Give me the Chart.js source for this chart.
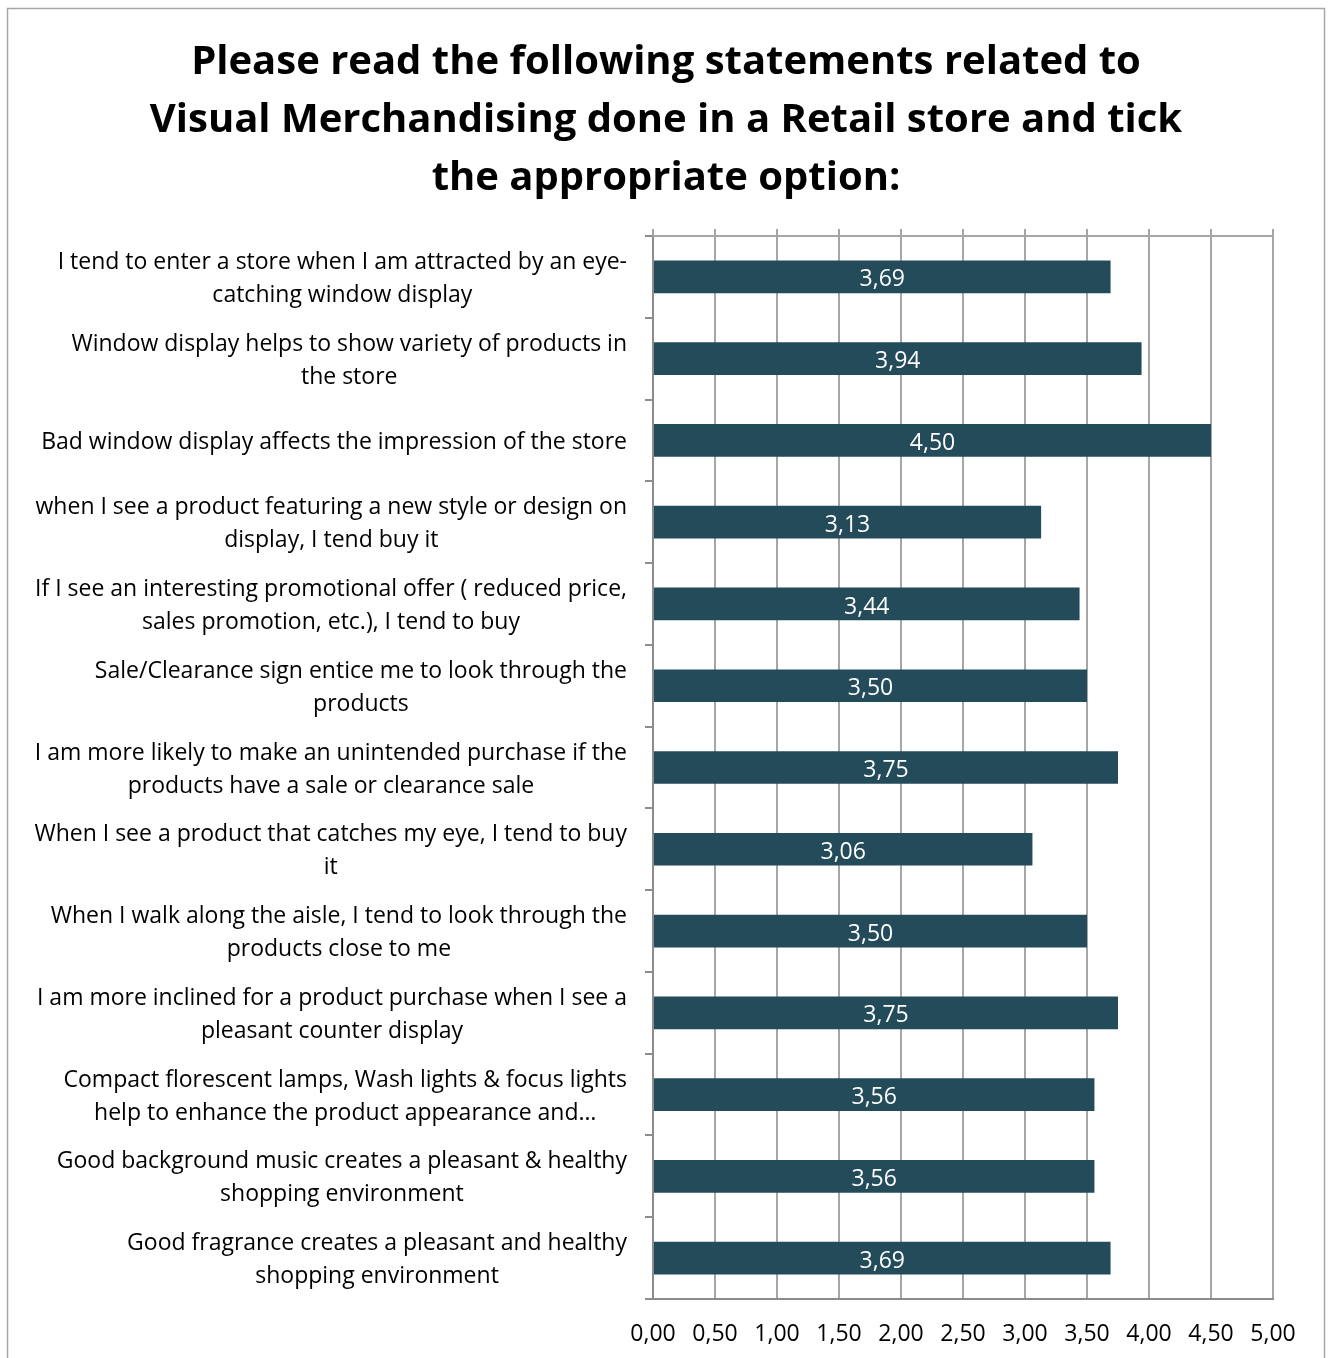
<!DOCTYPE html>
<html lang="en">
<head>
    <meta charset="UTF-8">
    <title>Visual Merchandising</title>
    <style>
        body {
            margin: 0;
            padding: 0;
            background-color: #ffffff;
        }
        .chart-box {
            position: relative;
            width: 1328px;
            height: 1358px;
        }
    </style>
</head>
<body>
    <div class="chart-box">
        <canvas id="vmChart"></canvas>
    </div>

    <script src="https://cdn.jsdelivr.net/npm/chart.js"></script>
    <script>
        // Survey statements (wrapped as shown) and mean scores
        const statements = [
            ['I tend to enter a store when I am attracted by an eye-', 'catching window display'],
            ['Window display helps to show variety of products in', 'the store'],
            ['Bad window display affects the impression of the store'],
            ['when I see a product featuring a new style or design on', 'display, I tend buy it'],
            ['If I see an interesting promotional offer ( reduced price,', 'sales promotion, etc.), I tend to buy'],
            ['Sale/Clearance sign entice me to look through the', 'products'],
            ['I am more likely to make an unintended purchase if the', 'products have a sale or clearance sale'],
            ['When I see a product that catches my eye, I tend to buy', 'it'],
            ['When I walk along the aisle, I tend to look through the', 'products close to me'],
            ['I am more inclined for a product purchase when I see a', 'pleasant counter display'],
            ['Compact florescent lamps, Wash lights & focus lights', 'help to enhance the product appearance and\u2026'],
            ['Good background music creates a pleasant & healthy', 'shopping environment'],
            ['Good fragrance creates a pleasant and healthy', 'shopping environment']
        ];
        const meanScores = [3.69, 3.94, 4.50, 3.13, 3.44, 3.50, 3.75, 3.06, 3.50, 3.75, 3.56, 3.56, 3.69];
        const axisTicks = [0, 0.5, 1, 1.5, 2, 2.5, 3, 3.5, 4, 4.5, 5];

        const titleLines = [
            'Please read the following statements related to',
            'Visual Merchandising done in a Retail store and tick',
            'the appropriate option:'
        ];

        const FONT = '"Open Sans", Lato, sans-serif';
        const GRID = '#a6a6a6';
        const AXIS = '#8c8c8c';

        const fmt = v => Number(v).toFixed(2).replace('.', ',');

        // Extra drawing: frame, title, top border with small ticks, wrapped labels, value labels
        const decorations = {
            id: 'decorations',
            afterDraw(chart) {
                const ctx = chart.ctx;
                const area = chart.chartArea;
                const xScale = chart.scales.x;
                const yScale = chart.scales.y;
                ctx.save();

                // frame around the whole chart
                ctx.strokeStyle = '#a6a6a6';
                ctx.lineWidth = 1.5;
                ctx.strokeRect(7.5, 8.5, 1317, 1400);

                // title, centred on the frame
                ctx.fillStyle = '#000000';
                ctx.font = 'bold 40px ' + FONT;
                ctx.textAlign = 'center';
                ctx.textBaseline = 'middle';
                titleLines.forEach((t, i) => {
                    ctx.fillText(t, 666, 63 + i * 58);
                });

                // top border and the short ticks above it
                ctx.strokeStyle = GRID;
                ctx.lineWidth = 2;
                ctx.beginPath();
                ctx.moveTo(area.left, area.top);
                ctx.lineTo(area.right, area.top);
                axisTicks.forEach(t => {
                    const x = xScale.getPixelForValue(t);
                    ctx.moveTo(x, area.top - 7);
                    ctx.lineTo(x, area.top);
                });
                ctx.stroke();

                // category labels: block right-aligned, lines centred inside the block
                ctx.fillStyle = '#000000';
                ctx.font = '23px ' + FONT;
                const rightEdge = area.left - 26;
                const lineH = 33;
                statements.forEach((lines, i) => {
                    const yc = yScale.getPixelForValue(i) + 2;
                    const blockW = Math.max(...lines.map(l => ctx.measureText(l).width));
                    const xc = rightEdge - blockW / 2;
                    lines.forEach((l, j) => {
                        const y = yc + (j - (lines.length - 1) / 2) * lineH;
                        ctx.fillText(l, xc, y);
                    });
                });

                // value labels in the middle of each bar
                ctx.fillStyle = '#ffffff';
                ctx.font = '23px ' + FONT;
                const meta = chart.getDatasetMeta(0);
                meta.data.forEach((bar, i) => {
                    const xc = (bar.x + bar.base) / 2;
                    ctx.fillText(fmt(meanScores[i]), xc, bar.y + 3);
                });

                ctx.restore();
            }
        };

        const ctx = document.getElementById('vmChart').getContext('2d');
        const vmChart = new Chart(ctx, {
            type: 'bar',
            data: {
                labels: statements.map(s => s.join(' ')),
                datasets: [{
                    data: meanScores,
                    backgroundColor: '#234b5a',
                    borderWidth: 0,
                    barPercentage: 0.8,
                    categoryPercentage: 0.5
                }]
            },
            options: {
                indexAxis: 'y',
                responsive: true,
                maintainAspectRatio: false,
                animation: false,
                layout: {
                    padding: { left: 0, right: 55, top: 236, bottom: 0 }
                },
                plugins: {
                    legend: { display: false },
                    tooltip: { enabled: false },
                    title: { display: false }
                },
                scales: {
                    x: {
                        min: 0,
                        max: 5,
                        afterBuildTicks: scale => {
                            scale.ticks = axisTicks.map(v => ({ value: v }));
                        },
                        afterFit: scale => { scale.height = 59; },
                        ticks: {
                            callback: v => fmt(v),
                            color: '#000000',
                            font: { family: FONT, size: 23 },
                            padding: 22,
                            maxRotation: 0,
                            autoSkip: false
                        },
                        grid: {
                            color: GRID,
                            lineWidth: 2,
                            drawTicks: false
                        },
                        border: { color: AXIS, width: 2 }
                    },
                    y: {
                        afterFit: scale => { scale.width = 653; },
                        ticks: { display: false },
                        grid: {
                            offset: true,
                            drawOnChartArea: false,
                            drawTicks: true,
                            tickLength: 8,
                            color: AXIS,
                            lineWidth: 2
                        },
                        border: { color: AXIS, width: 2 }
                    }
                }
            },
            plugins: [decorations]
        });
    </script>
</body>
</html>
